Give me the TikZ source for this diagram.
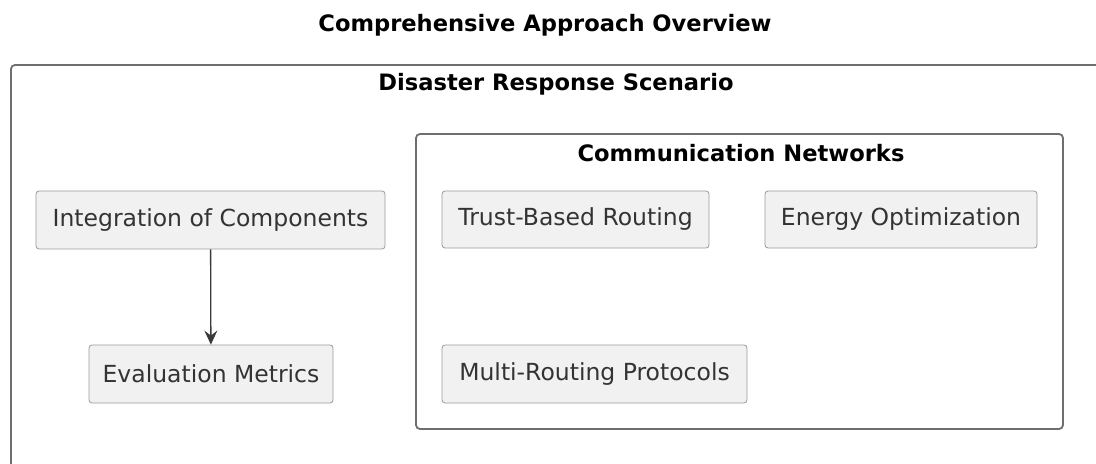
\documentclass[tikz,border=0pt]{standalone}
\usepackage{fontspec}
\setmainfont{DejaVu Sans}
\usetikzlibrary{arrows.meta}
\definecolor{boxfill}{HTML}{F1F1F1}
\definecolor{boxline}{HTML}{9A9A9A}
\definecolor{frameline}{HTML}{6E6E6E}
\definecolor{arrowline}{HTML}{3A3A3A}
\begin{document}
\begin{tikzpicture}[x=0.5pt,y=-0.5pt,
  comp/.style={draw=boxline, fill=boxfill, rounded corners=1.5pt, inner sep=0pt, text=black!80,
    font=\fontsize{11.75}{14}\selectfont},
  frame/.style={draw=frameline, line width=0.9pt, rounded corners=2pt},
  ftitle/.style={font=\fontsize{11.3}{14}\selectfont\bfseries, inner sep=0pt}]
\useasboundingbox (0,0) rectangle (1096,464);
\clip (0,0) rectangle (1096,464);
\node[ftitle] (title) at (545,25) {Comprehensive Approach Overview};

\draw[frame] (11,65) rectangle (1120,490);
\node[ftitle] (drs) at (556,84) {Disaster Response Scenario};
\draw[frame] (416,134) rectangle (1063,429);
\node[ftitle] (cn) at (741,153) {Communication Networks};

\node[comp, minimum width=174.5pt, minimum height=29pt] (ic) at (210.5,220) {Integration of Components};
\node[comp, minimum width=122pt, minimum height=29pt] (em) at (211,374) {Evaluation Metrics};
\node[comp, minimum width=133.5pt, minimum height=28.5pt] (tr) at (575.5,219.5) {Trust-Based Routing};
\node[comp, minimum width=136pt, minimum height=28.5pt] (eo) at (901,219.5) {Energy Optimization};
\node[comp, minimum width=152.5pt, minimum height=29pt] (mr) at (594.5,374) {Multi-Routing Protocols};

\path[draw,arrowline,line width=0.65pt,-{Stealth[length=7pt,width=6.5pt,inset=2.5pt]}] (ic) -- (em);
\end{tikzpicture}
\end{document}
